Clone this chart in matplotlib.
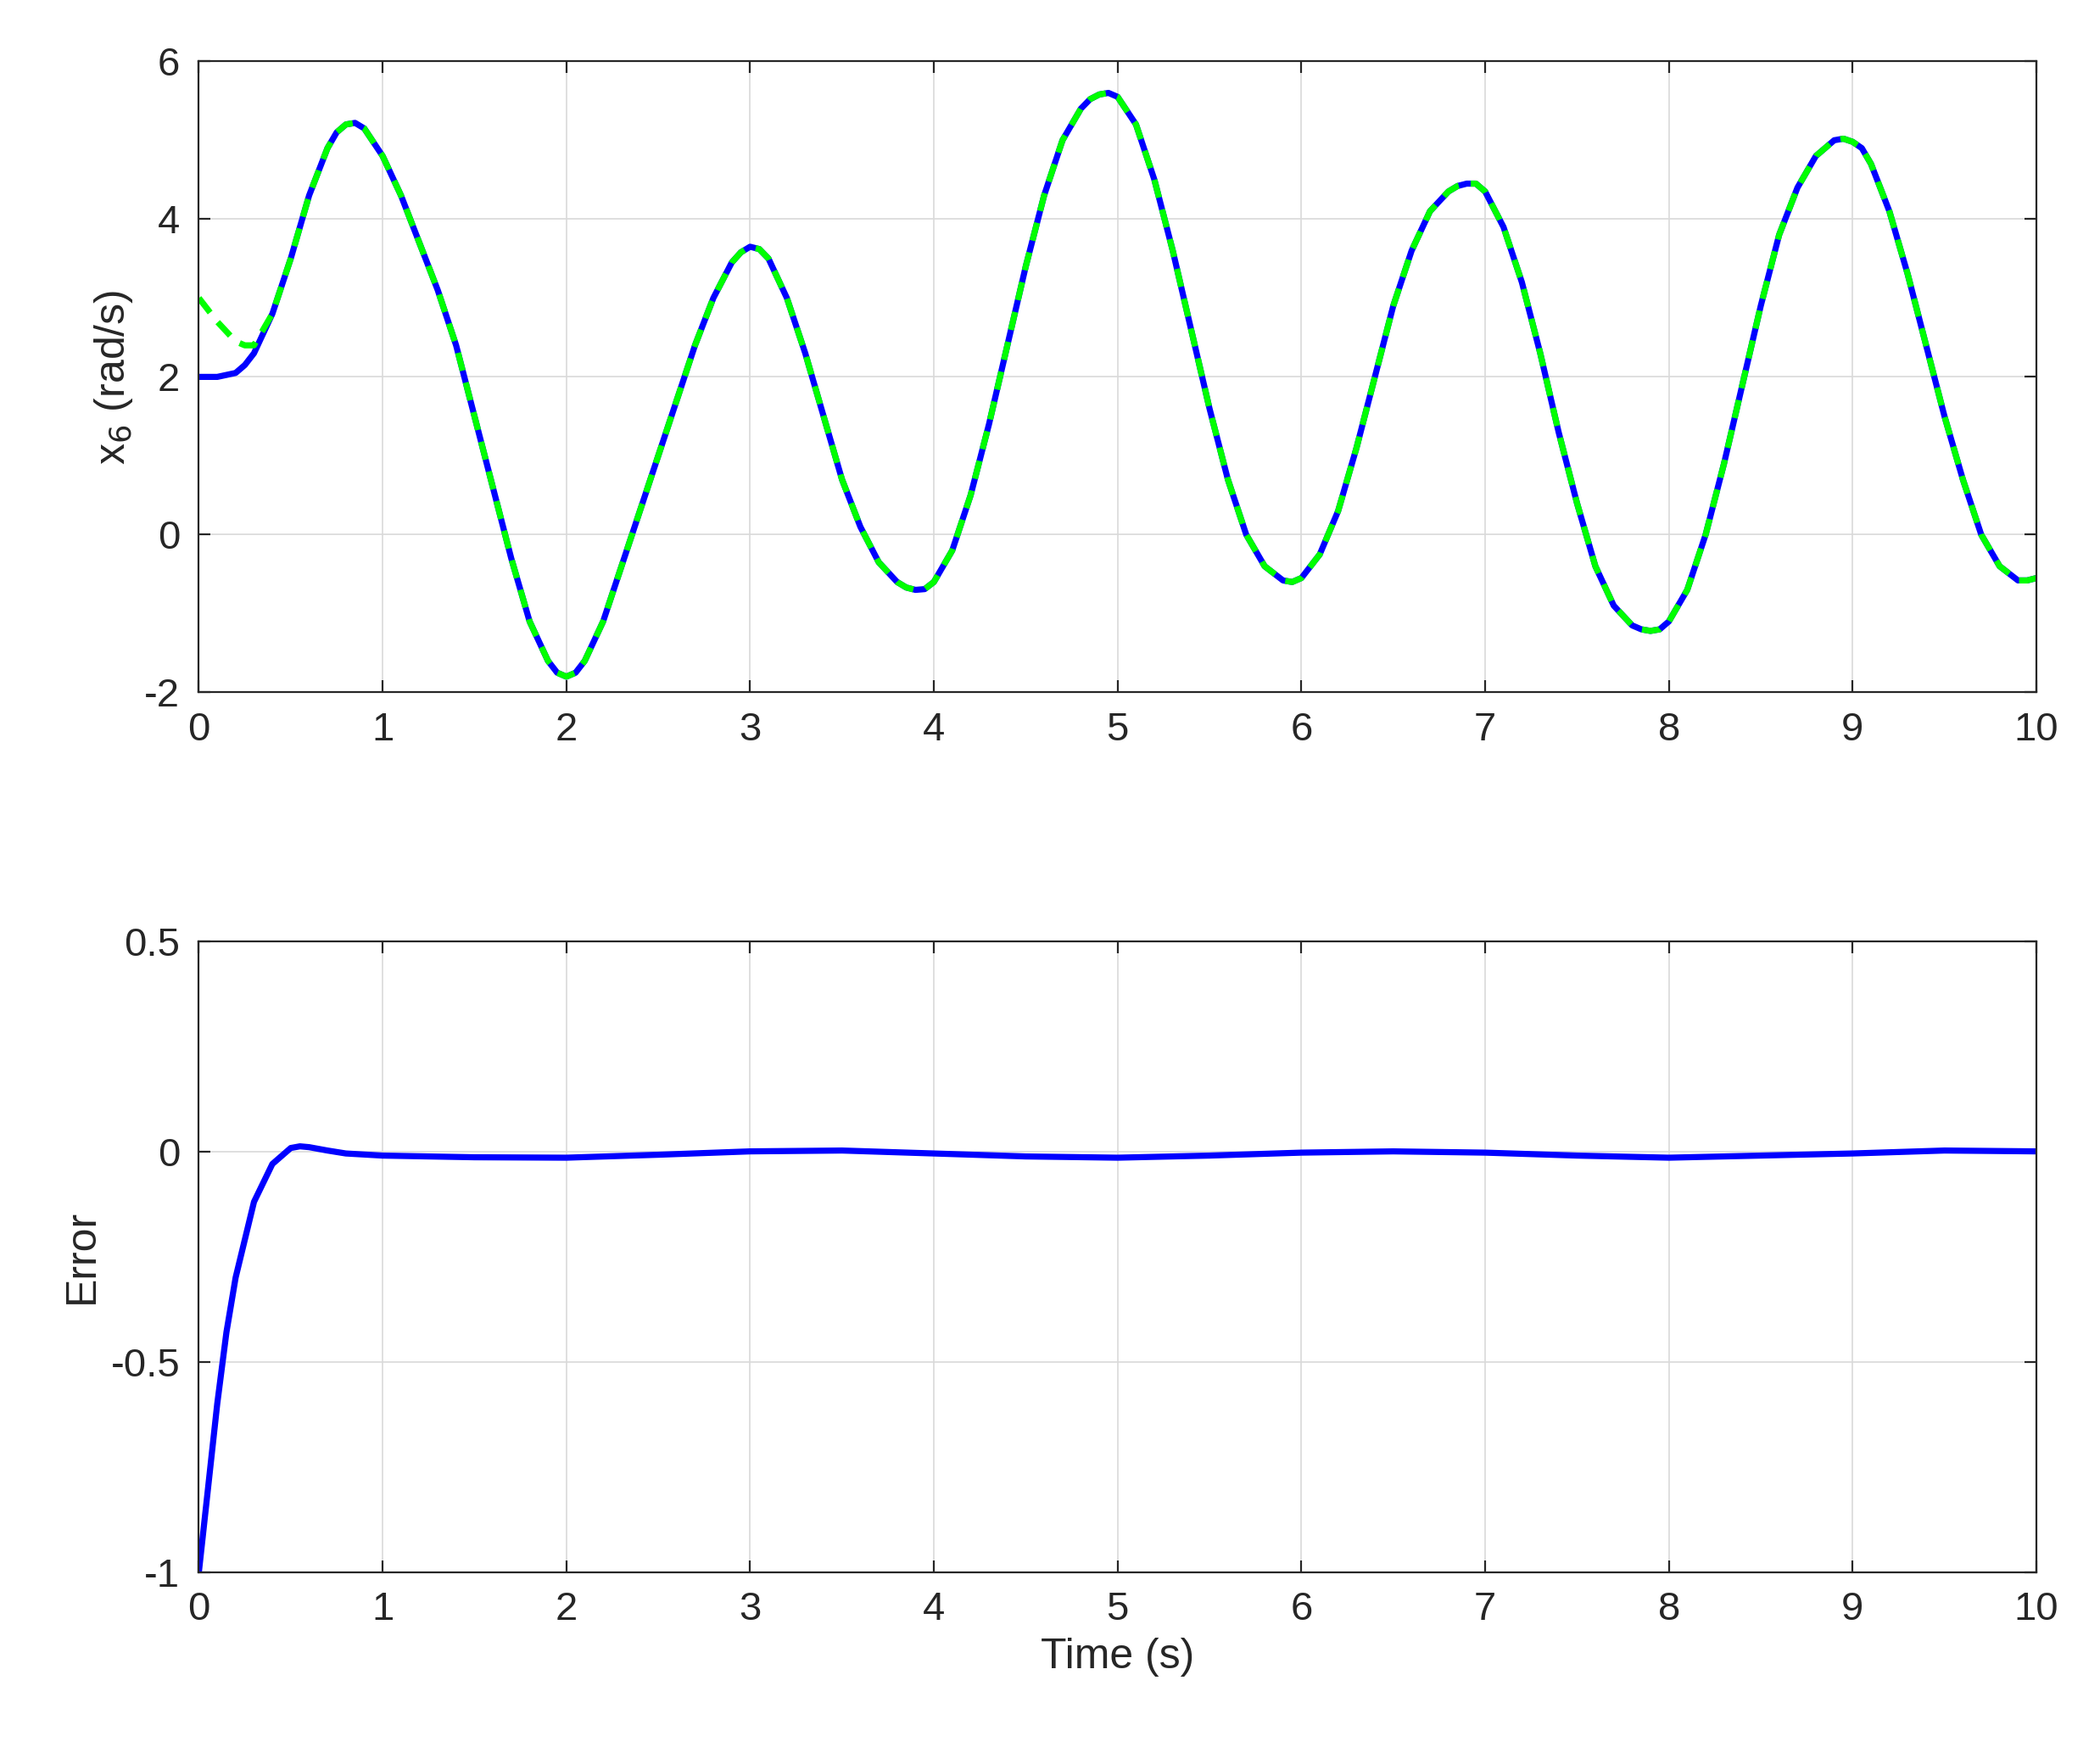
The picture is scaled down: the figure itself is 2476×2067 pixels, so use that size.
import numpy as np
import matplotlib
matplotlib.use("Agg")
import matplotlib.pyplot as plt

# top panel: actual x6 (blue) and reference (green dashed), sampled every 0.1 s
t_top = [round(0.1 * i, 1) for i in range(101)]
x6_actual = [
    2.0, 2.0, 2.05, 2.3, 2.8, 3.5, 4.3, 4.9, 5.2, 5.15,
    4.8, 4.3, 3.7, 3.1, 2.4, 1.5, 0.6, -0.3, -1.1, -1.6,
    -1.8, -1.6, -1.1, -0.4, 0.3, 1.0, 1.7, 2.4, 3.0, 3.45,
    3.65, 3.5, 3.0, 2.3, 1.5, 0.7, 0.1, -0.35, -0.6, -0.7,
    -0.6, -0.2, 0.5, 1.4, 2.4, 3.4, 4.3, 5.0, 5.4, 5.58,
    5.55, 5.2, 4.5, 3.6, 2.6, 1.6, 0.7, 0.0, -0.4, -0.58,
    -0.55, -0.25, 0.3, 1.1, 2.0, 2.9, 3.6, 4.1, 4.35, 4.45,
    4.35, 3.9, 3.2, 2.3, 1.3, 0.4, -0.4, -0.9, -1.15, -1.22,
    -1.1, -0.7, 0.0, 0.9, 1.9, 2.9, 3.8, 4.4, 4.8, 5.0,
    4.98, 4.7, 4.1, 3.3, 2.4, 1.5, 0.7, 0.0, -0.4, -0.58,
    -0.55,
]
# extra samples near the extrema
t_extra = [0.25, 0.75, 0.85, 1.95, 2.05, 2.95, 3.05, 3.85, 3.95, 4.85, 4.95,
           5.95, 6.85, 6.95, 7.85, 7.95, 8.95, 9.05, 9.95]
x6_extra = [2.15, 5.1, 5.22, -1.75, -1.75, 3.58, 3.62, -0.67, -0.69, 5.52, 5.6,
            -0.6, 4.42, 4.45, -1.2, -1.2, 5.02, 4.9, -0.58]
x6_ref_start = [3.0, 2.7, 2.45, 2.4]
x6_ref_extra0 = 2.4  # reference at t=0.25

order = np.argsort(t_top + t_extra, kind="stable")
t_all = np.array(t_top + t_extra)[order]
x6_all = np.array(x6_actual + x6_extra)[order]
ref_all = np.array(x6_ref_start + x6_actual[4:] + [x6_ref_extra0] + x6_extra[1:])[order]

# bottom panel: tracking error
t_err = [0, 0.05, 0.1, 0.15, 0.2, 0.3, 0.4, 0.5, 0.55, 0.6, 0.7, 0.8, 1, 1.5, 2,
         2.5, 3, 3.5, 4, 4.5, 5, 5.5, 6, 6.5, 7, 7.5, 8, 8.5, 9, 9.5, 10]
err = [-1.0, -0.8, -0.6, -0.43, -0.3, -0.12, -0.03, 0.008, 0.012, 0.01, 0.002,
       -0.005, -0.01, -0.014, -0.015, -0.008, 0.0, 0.002, -0.005, -0.012, -0.015,
       -0.01, -0.003, 0.0, -0.003, -0.01, -0.015, -0.01, -0.005, 0.002, 0.0]

plt.rcParams["font.family"] = ["Arial", "Liberation Sans", "DejaVu Sans"]

fig = plt.figure(figsize=(12.38, 10.335), dpi=200)
ax1 = fig.add_axes([0.0947, 0.605, 0.875, 0.360])
ax2 = fig.add_axes([0.0947, 0.1032, 0.875, 0.360])

ax1.plot(t_all, x6_all, color="#0000ff", lw=2.6)
ax1.plot(t_all, ref_all, color="#00ff00", lw=2.6, ls=(0, (3, 2)))
ax1.set_ylim(-2, 6)
ax1.set_yticks([-2, 0, 2, 4, 6])
ax1.set_yticklabels(["-2", "0", "2", "4", "6"])
ax1.set_ylabel("x$_6$ (rad/s)", fontsize=18, color="#262626")

ax2.plot(t_err, err, color="#0000ff", lw=2.6)
ax2.set_ylim(-1, 0.5)
ax2.set_yticks([-1, -0.5, 0, 0.5])
ax2.set_yticklabels(["-1", "-0.5", "0", "0.5"])
ax2.set_ylabel("Error", fontsize=18, color="#262626")
ax2.set_xlabel("Time (s)", fontsize=18, color="#262626")

for ax in (ax1, ax2):
    ax.set_xlim(0, 10)
    ax.set_xticks(range(11))
    ax.tick_params(direction="in", length=5, width=0.8, colors="#262626",
                   labelsize=17, pad=8, top=True, right=True)
    ax.grid(True, color="#d9d9d9", lw=0.6)
    for s in ax.spines.values():
        s.set_color("#262626")
        s.set_linewidth(0.8)

fig.savefig("out.png", dpi=200)
